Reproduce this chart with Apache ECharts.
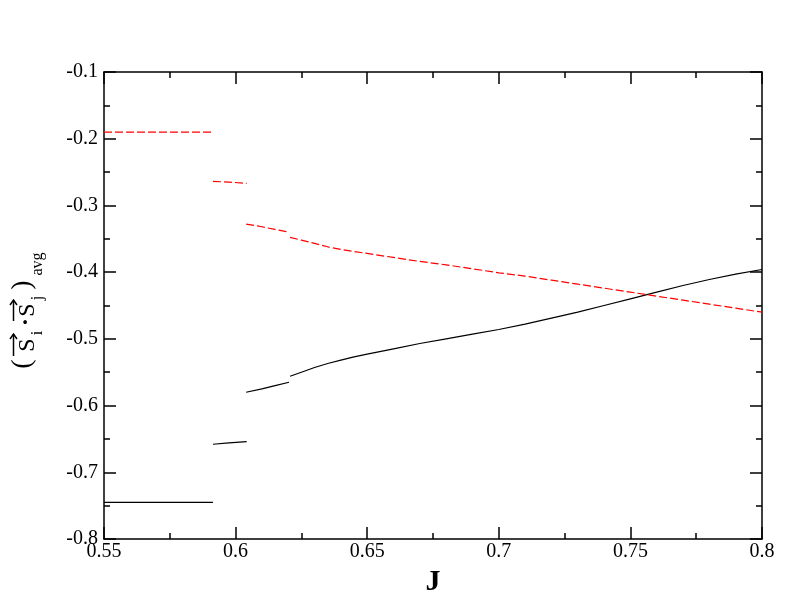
<!DOCTYPE html>
<html>
<head>
<meta charset="utf-8">
<script src="https://cdn.jsdelivr.net/npm/echarts@6/dist/echarts.min.js"></script>
<style>html,body{margin:0;padding:0;background:#fff;}#c{width:792px;height:612px;}</style>
</head>
<body>
<div id="c"></div>
<script>
// ---- data (J, <S1.Sj>avg) ----
const xTicks = [0.55, 0.6, 0.65, 0.7, 0.75, 0.8];
const yTicks = [-0.8, -0.7, -0.6, -0.5, -0.4, -0.3, -0.2, -0.1];

const blackSeg1J = [0.55, 0.5914];
const blackSeg1V = [-0.745, -0.745];
const blackSeg2J = [0.5914, 0.5975, 0.6042];
const blackSeg2V = [-0.658, -0.656, -0.654];
const blackSeg3J = [0.604, 0.61, 0.615, 0.6203];
const blackSeg3V = [-0.580, -0.575, -0.570, -0.565];
const blackSeg4J = [0.6207, 0.625, 0.63, 0.635, 0.64, 0.645, 0.65, 0.66, 0.67, 0.68, 0.69, 0.7, 0.71, 0.72, 0.73, 0.74, 0.75, 0.76, 0.77, 0.78, 0.79, 0.8];
const blackSeg4V = [-0.556, -0.550, -0.543, -0.537, -0.532, -0.527, -0.523, -0.515, -0.507, -0.500, -0.493, -0.486, -0.478, -0.469, -0.460, -0.450, -0.440, -0.430, -0.420, -0.411, -0.403, -0.396];

const redSeg1J = [0.55, 0.5909];
const redSeg1V = [-0.190, -0.190];
const redSeg2J = [0.5914, 0.5975, 0.6042];
const redSeg2V = [-0.264, -0.265, -0.267];
const redSeg3J = [0.604, 0.61, 0.615, 0.6203];
const redSeg3V = [-0.328, -0.332, -0.336, -0.340];
const redSeg4J = [0.6207, 0.625, 0.63, 0.635, 0.64, 0.645, 0.65, 0.66, 0.67, 0.68, 0.69, 0.7, 0.71, 0.72, 0.73, 0.74, 0.75, 0.76, 0.77, 0.78, 0.79, 0.8];
const redSeg4V = [-0.348, -0.352, -0.357, -0.362, -0.366, -0.369, -0.372, -0.378, -0.384, -0.389, -0.395, -0.401, -0.406, -0.412, -0.418, -0.424, -0.430, -0.436, -0.442, -0.448, -0.454, -0.460];

const blackSegs = [[blackSeg1J, blackSeg1V], [blackSeg2J, blackSeg2V], [blackSeg3J, blackSeg3V], [blackSeg4J, blackSeg4V]];
const redSegs = [[redSeg1J, redSeg1V], [redSeg2J, redSeg2V], [redSeg3J, redSeg3V], [redSeg4J, redSeg4V]];

const FONT = 'Liberation Serif';
const chart = echarts.init(document.getElementById('c'), null, {renderer: 'canvas'});

function zip(a, b) { return a.map((v, i) => [v, b[i]]); }
const series = [];
blackSegs.forEach(s => series.push({
  type: 'line', data: zip(s[0], s[1]), showSymbol: false, symbol: 'none',
  lineStyle: {color: '#000', width: 1.2}, animation: false, z: 3
}));
redSegs.forEach(s => series.push({
  type: 'line', data: zip(s[0], s[1]), showSymbol: false, symbol: 'none',
  lineStyle: {color: '#ff0000', width: 1.2, type: [8, 3]}, animation: false, z: 4
}));

function fmt(v) { return String(+v.toFixed(2)); }

const axisCommon = {
  type: 'value',
  axisLine: {show: true, onZero: false, lineStyle: {color: '#000', width: 1.5}},
  axisTick: {show: true, inside: true, length: 12, lineStyle: {color: '#000', width: 1.5}},
  minorTick: {show: true, splitNumber: 2, length: 6, lineStyle: {color: '#000', width: 1.5}},
  splitLine: {show: false},
  minorSplitLine: {show: false}
};

const option = {
  backgroundColor: '#fff',
  animation: false,
  grid: {left: 104, right: 30, top: 72, bottom: 73, containLabel: false},
  xAxis: [
    Object.assign({}, axisCommon, {
      position: 'bottom', min: xTicks[0], max: xTicks[xTicks.length - 1], interval: 0.05,
      axisLabel: {show: true, color: '#000', fontFamily: FONT, fontSize: 20, margin: 3, formatter: fmt},
      name: 'J', nameLocation: 'middle', nameGap: 27,
      nameTextStyle: {color: '#000', fontFamily: FONT, fontSize: 30, fontWeight: 'bold'}
    }),
    Object.assign({}, axisCommon, {
      position: 'top', min: xTicks[0], max: xTicks[xTicks.length - 1], interval: 0.05,
      axisLabel: {show: false}
    })
  ],
  yAxis: [
    Object.assign({}, axisCommon, {
      position: 'left', min: yTicks[0], max: yTicks[yTicks.length - 1], interval: 0.1,
      axisLabel: {show: true, color: '#000', fontFamily: FONT, fontSize: 20, margin: 6, formatter: fmt}
    }),
    Object.assign({}, axisCommon, {
      position: 'right', min: yTicks[0], max: yTicks[yTicks.length - 1], interval: 0.1,
      axisLabel: {show: false}
    })
  ],
  series: series,
  graphic: [
    {type: 'text', x: 23, y: 364, rotation: Math.PI / 2, style: {text: '(', font: '28px ' + FONT, fill: '#000', align: 'center', verticalAlign: 'middle'}},
    {type: 'text', x: 28, y: 345, rotation: Math.PI / 2, style: {text: 'S', font: '24px ' + FONT, fill: '#000', align: 'center', verticalAlign: 'middle'}},
    {type: 'text', x: 38, y: 333, rotation: Math.PI / 2, style: {text: 'i', font: '16px ' + FONT, fill: '#000', align: 'center', verticalAlign: 'middle'}},
    {type: 'text', x: 27, y: 322, rotation: Math.PI / 2, style: {text: '·', font: 'bold 24px ' + FONT, fill: '#000', align: 'center', verticalAlign: 'middle'}},
    {type: 'text', x: 28, y: 310, rotation: Math.PI / 2, style: {text: 'S', font: '24px ' + FONT, fill: '#000', align: 'center', verticalAlign: 'middle'}},
    {type: 'text', x: 38, y: 298, rotation: Math.PI / 2, style: {text: 'j', font: '16px ' + FONT, fill: '#000', align: 'center', verticalAlign: 'middle'}},
    {type: 'text', x: 23, y: 285, rotation: Math.PI / 2, style: {text: ')', font: '28px ' + FONT, fill: '#000', align: 'center', verticalAlign: 'middle'}},
    {type: 'text', x: 38, y: 264, rotation: Math.PI / 2, style: {text: 'avg', font: '16px ' + FONT, fill: '#000', align: 'center', verticalAlign: 'middle'}},
    {type: 'polyline', shape: {points: [[13.5, 356], [13.5, 334]]}, style: {stroke: '#000', lineWidth: 1.5, fill: null}},
    {type: 'polyline', shape: {points: [[10, 339], [13.5, 334], [17, 339]]}, style: {stroke: '#000', lineWidth: 1.5, fill: null}},
    {type: 'polyline', shape: {points: [[13.5, 321], [13.5, 300]]}, style: {stroke: '#000', lineWidth: 1.5, fill: null}},
    {type: 'polyline', shape: {points: [[10, 305], [13.5, 300], [17, 305]]}, style: {stroke: '#000', lineWidth: 1.5, fill: null}}
  ]
};
chart.setOption(option);
</script>
</body>
</html>
